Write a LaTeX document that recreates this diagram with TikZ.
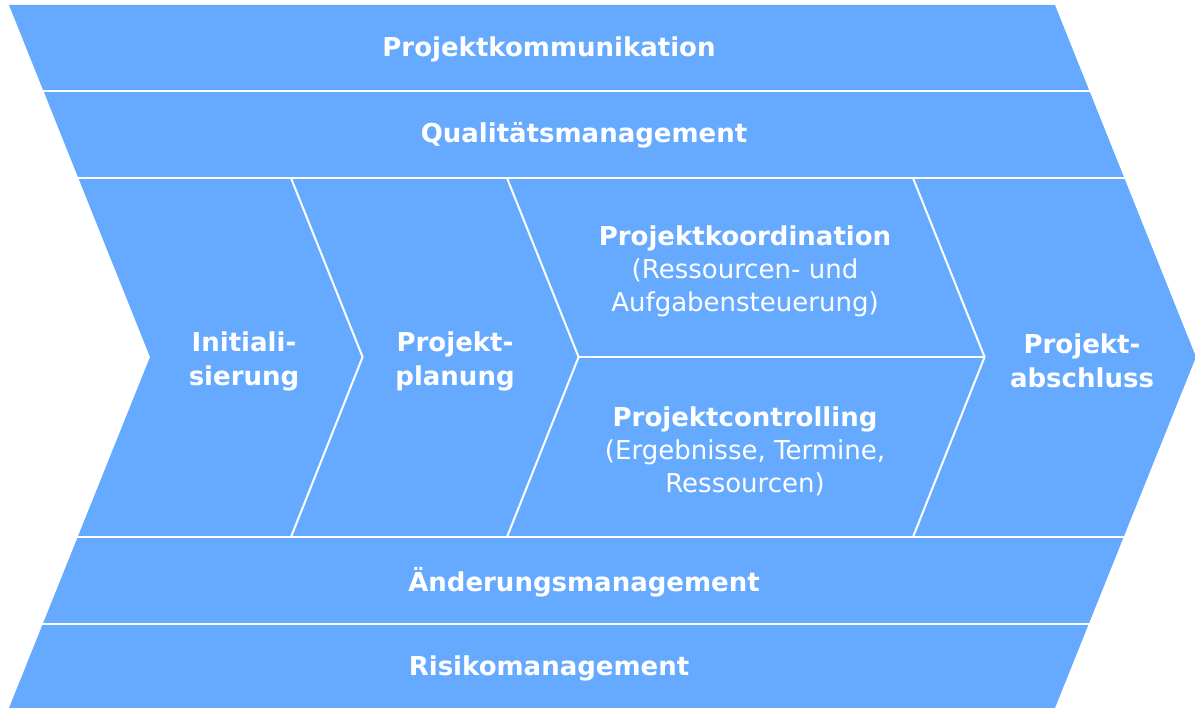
\documentclass[tikz,border=0pt]{standalone}
\usepackage{fontspec}
\setsansfont{DejaVu Sans}
\usetikzlibrary{positioning}

\definecolor{phaseblue}{RGB}{102,170,255}

\tikzset{
  sep/.style={draw=white, line width=2pt},
  label/.style={text=white, align=center, inner sep=0pt,
    font=\sffamily\bfseries\fontsize{26}{34}\selectfont},
  note/.style={label, font=\sffamily\fontsize{26}{33}\selectfont}
}

\begin{document}
\begin{tikzpicture}[x=1pt,y=-1pt]
  \useasboundingbox (0,0) rectangle (1195,708);
  % outer arrow
  \fill[phaseblue] (9,5) -- (1055,5) -- (1196,357) -- (1055,708) -- (9,708) -- (150,357) -- cycle;
  % bands
  \foreach \y in {91,178,537,624}
    \draw[sep] (0,\y) -- (1195,\y);
  % phases in the middle band
  \foreach \x in {291,507,913}
    \draw[sep, line join=miter] (\x,178) -- ++(71.6,179) -- ++(-71.6,180);
  \draw[sep] (578.6,357) -- (984.6,357);

  \node[label] (komm) at (549,49) {Projektkommunikation};
  \node[label] (qual) at (584,135) {Qualitätsmanagement};
  \node[label] (init) at (244,361) {Initiali-\\sierung};
  \node[label] (plan) at (455,361) {Projekt-\\planung};
  \node[note] (koord) at (745,271) {\textbf{Projektkoordination}\\(Ressourcen- und\\Aufgabensteuerung)};
  \node[note] (contr) at (745,451) {\textbf{Projektcontrolling}\\(Ergebnisse, Termine,\\Ressourcen)};
  \node[label] (absch) at (1082,361) {Projekt-\\abschluss};
  \node[label] (aend) at (584,582) {Änderungsmanagement};
  \node[label] (risk) at (549,668) {Risikomanagement};
\end{tikzpicture}
\end{document}
